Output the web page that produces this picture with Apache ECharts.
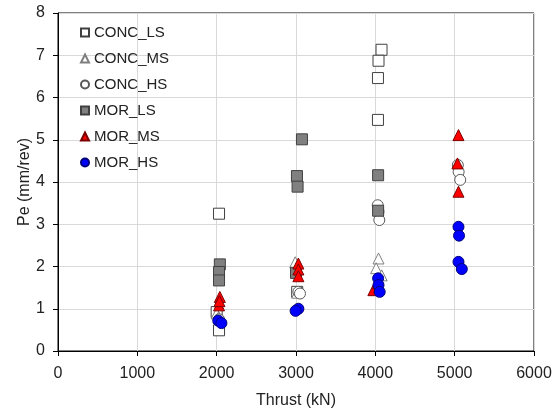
<!DOCTYPE html>
<html>
<head>
<meta charset="utf-8">
<script src="https://cdn.jsdelivr.net/npm/echarts@6/dist/echarts.min.js"></script>
<style>html,body{margin:0;padding:0;background:#fff}#c{width:555px;height:411px}</style>
</head>
<body>
<div id="c"></div>
<script>
const seriesNames = ['CONC_LS','CONC_MS','CONC_HS','MOR_LS','MOR_MS','MOR_HS'];
const xTicks = [0,1000,2000,3000,4000,5000,6000];
const yTicks = [0,1,2,3,4,5,6,7,8];

const concLsX = [2030, 2000, 2030, 3015, 4078, 4040, 4033, 4033];
const concLsY = [3.25, 0.92, 0.49, 1.40, 7.13, 6.87, 6.46, 5.47];

const concMsX = [2000, 2025, 2990, 3005, 3015, 4040, 4010, 4080];
const concMsY = [0.89, 0.80, 2.10, 1.85, 1.38, 2.19, 1.96, 1.79];

const concHsX = [2030, 3030, 3050, 4030, 4040, 4050, 5040, 5050, 5070];
const concHsY = [0.75, 1.40, 1.36, 3.45, 3.30, 3.10, 4.40, 4.24, 4.05];

const morLsX = [2040, 2030, 2030, 3075, 3012, 3020, 3000, 4035, 4035];
const morLsY = [2.05, 1.87, 1.67, 5.01, 4.14, 3.89, 1.85, 4.16, 3.32];

const morMsX = [2040, 2030, 2035, 3030, 3030, 3030, 3975, 4030, 4050, 5048, 5035, 5048];
const morMsY = [1.28, 1.08, 1.18, 2.07, 1.93, 1.77, 1.44, 1.60, 1.50, 5.11, 4.44, 3.77];

const morHsX = [2020, 2060, 3030, 2995, 4035, 4040, 4055, 5048, 5055, 5048, 5090];
const morHsY = [0.72, 0.66, 1.00, 0.95, 1.72, 1.56, 1.40, 2.94, 2.73, 2.11, 1.94];

function pairs(xs, ys){ return xs.map((x,i)=>[x, ys[i]]); }

const styles = [
  {symbol:'rect', color:'#ffffff', border:'#404040'},
  {symbol:'triangle', color:'#ffffff', border:'#7f7f7f'},
  {symbol:'circle', color:'#ffffff', border:'#595959'},
  {symbol:'rect', color:'#808080', border:'#404040'},
  {symbol:'triangle', color:'#ff0000', border:'#7a0000'},
  {symbol:'circle', color:'#0000ff', border:'#00007a'}
];
const dataSets = [
  pairs(concLsX, concLsY), pairs(concMsX, concMsY), pairs(concHsX, concHsY),
  pairs(morLsX, morLsY), pairs(morMsX, morMsY), pairs(morHsX, morHsY)
];

const chart = echarts.init(document.getElementById('c'), null, {renderer:'canvas'});
const font = 'Liberation Sans, Arial, sans-serif';
chart.setOption({
  animation: false,
  grid: {left: 58, right: 21, top: 13, bottom: 60, show: true, borderColor: '#000', borderWidth: 1,
         containLabel: false, outerBoundsMode: 'none'},
  legend: {
    orient: 'vertical', left: 75, top: 20, itemWidth: 8, itemHeight: 8, itemGap: 11,
    textStyle: {fontFamily: font, fontSize: 15, color: '#222', lineHeight: 15},
    data: seriesNames
  },
  xAxis: {
    type: 'value', min: 0, max: 6000, interval: 1000,
    name: 'Thrust (kN)', nameLocation: 'middle', nameGap: 42, nameMoveOverlap: false,
    nameTextStyle: {fontFamily: font, fontSize: 16, color: '#222'},
    axisLine: {show: true, onZero: false, lineStyle: {color: '#000', width: 1}},
    axisTick: {show: true, inside: false, length: 5, lineStyle: {color: '#000'}},
    axisLabel: {fontFamily: font, fontSize: 16, color: '#222', margin: 15,
      formatter: v => xTicks.includes(v) ? String(v) : ''},
    splitLine: {show: true, lineStyle: {color: '#d9d9d9', width: 1}}
  },
  yAxis: {
    type: 'value', min: 0, max: 8, interval: 1,
    name: 'Pe (mm/rev)', nameLocation: 'middle', nameGap: 25, nameMoveOverlap: false,
    nameTextStyle: {fontFamily: font, fontSize: 16, color: '#222'},
    axisLine: {show: true, onZero: false, lineStyle: {color: '#000', width: 1}},
    axisTick: {show: true, inside: false, length: 5, lineStyle: {color: '#000'}},
    axisLabel: {fontFamily: font, fontSize: 16, color: '#222', margin: 13,
      formatter: v => yTicks.includes(v) ? String(v) : ''},
    splitLine: {show: true, lineStyle: {color: '#d9d9d9', width: 1}}
  },
  series: seriesNames.map((n,i)=>({
    name: n, type: 'scatter', symbol: styles[i].symbol, symbolSize: 11,
    itemStyle: {color: styles[i].color, borderColor: styles[i].border, borderWidth: 1, opacity: 1},
    data: dataSets[i], z: 2 + i
  }))
});
</script>
</body>
</html>
